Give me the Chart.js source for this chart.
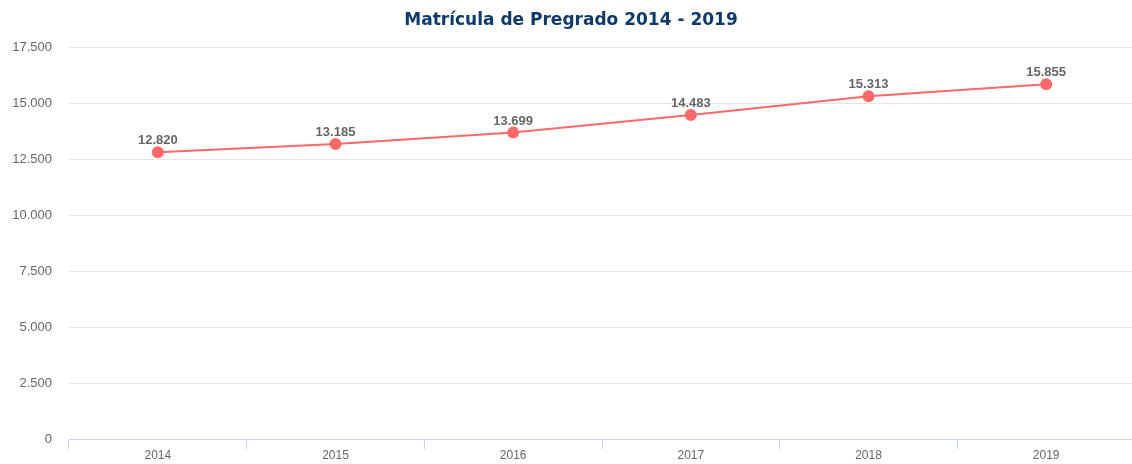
<!DOCTYPE html>
<html>
<head>
<meta charset="utf-8">
<script src="https://cdn.jsdelivr.net/npm/chart.js@4"></script>
<style>
  html, body { margin: 0; padding: 0; background: #fff; overflow: hidden; }
  #wrap { width: 1142px; height: 464px; }
</style>
</head>
<body>
<div id="wrap"><canvas id="matChart"></canvas></div>
<script>
var years = ["2014", "2015", "2016", "2017", "2018", "2019"];
var matricula = [12820, 13185, 13699, 14483, 15313, 15855];
var yTicks = [0, 2500, 5000, 7500, 10000, 12500, 15000, 17500];

function fmt(v) {
    return String(v).replace(/\B(?=(\d{3})+(?!\d))/g, ".");
}

// draws the value above each point (no datalabels plugin offline)
var pointLabels = {
    id: 'pointLabels',
    afterDatasetsDraw: function (chart) {
        var ctx = chart.ctx;
        var meta = chart.getDatasetMeta(0);
        ctx.save();
        ctx.font = "bold 13px 'Liberation Sans', Arial, sans-serif";
        ctx.fillStyle = "#666666";
        ctx.textAlign = "center";
        ctx.textBaseline = "bottom";
        meta.data.forEach(function (pt, i) {
            ctx.fillText(fmt(chart.data.datasets[0].data[i]), pt.x, pt.y - 5);
        });
        ctx.restore();
    }
};

var lineChart;

function init_chart() {
    const ctx = document.getElementById('matChart').getContext('2d');
    lineChart = new Chart(ctx, {
        type: "line",
        data: {
            labels: years,
            datasets: [
                {
                    label: "Matrícula",
                    data: matricula,
                    fill: false,
                    borderColor: "rgb(255, 104, 104)",
                    backgroundColor: "rgb(255, 104, 104)",
                    borderWidth: 2,
                    pointRadius: 5,
                    pointHoverRadius: 5,
                    tension: 0
                }
            ]
        },
        options: {
            responsive: true,
            maintainAspectRatio: false,
            animation: false,
            layout: { padding: { left: 0, right: 0, top: 0, bottom: 1 } },
            plugins: {
                legend: { display: false },
                tooltip: { enabled: false },
                title: {
                    display: true,
                    text: 'Matrícula de Pregrado 2014 - 2019',
                    color: '#0d3a6c',
                    font: { family: "Verdana, 'DejaVu Sans', sans-serif", size: 17, weight: 'bold' },
                    padding: { top: 10, bottom: 17 }
                }
            },
            scales: {
                x: {
                    offset: true,
                    grid: {
                        offset: true,
                        drawOnChartArea: false,
                        color: '#ccd6eb',
                        tickLength: 10
                    },
                    border: { color: '#ccd6eb' },
                    ticks: {
                        color: '#666666',
                        font: { family: "'Liberation Sans', Arial, sans-serif", size: 12 },
                        padding: -1
                    }
                },
                y: {
                    min: 0,
                    max: 17500,
                    afterBuildTicks: function (axis) {
                        axis.ticks = yTicks.map(function (v) { return { value: v }; });
                    },
                    afterFit: function (axis) { axis.width = 69; },
                    grid: { color: '#e6e6e6', drawTicks: false },
                    border: { display: false },
                    ticks: {
                        color: '#666666',
                        font: { family: "'Liberation Sans', Arial, sans-serif", size: 13 },
                        padding: 17,
                        callback: function (v) { return fmt(v); }
                    }
                }
            }
        },
        plugins: [pointLabels]
    });
}

init_chart();
</script>
</body>
</html>
